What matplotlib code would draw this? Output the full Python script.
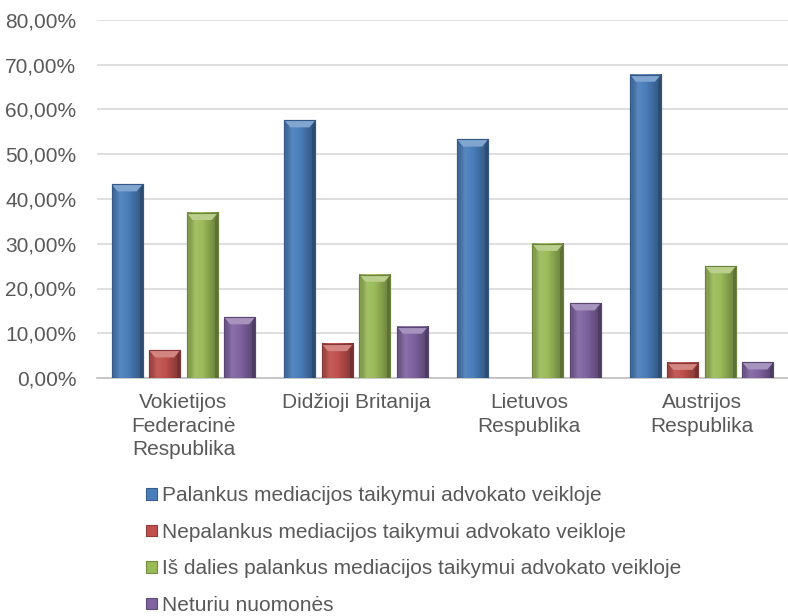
import numpy as np
import matplotlib
matplotlib.use("Agg")
import matplotlib.pyplot as plt
from matplotlib.colors import LinearSegmentedColormap, to_rgb
from matplotlib.patches import Polygon

plt.rcParams["font.family"] = ["Liberation Sans", "DejaVu Sans"]

categories = ["Vokietijos\nFederacinė\nRespublika", "Didžioji Britanija",
              "Lietuvos\nRespublika", "Austrijos\nRespublika"]
series_names = [
    "Palankus mediacijos taikymui advokato veikloje",
    "Nepalankus mediacijos taikymui advokato veikloje",
    "Iš dalies palankus mediacijos taikymui advokato veikloje",
    "Neturiu nuomonės",
]
palankus = [43.3, 57.6, 53.3, 67.8]
nepalankus = [6.2, 7.6, 0.0, 3.4]
is_dalies = [36.9, 23.1, 30.0, 25.0]
neturiu = [13.6, 11.5, 16.7, 3.5]
series_values = [palankus, nepalankus, is_dalies, neturiu]

colors = ["#4a7ebb", "#c0504d", "#9bbb59", "#8064a2"]
TEXT = "#595959"


def shade(c, f):
    r = np.array(to_rgb(c))
    if f < 1:
        return tuple(r * f)
    return tuple(r + (1 - r) * (f - 1))


fig = plt.figure(figsize=(7.88, 6.16), dpi=100)
ax = fig.add_axes([97 / 788, 1 - 378 / 616, 1 - 97 / 788, (378 - 20) / 616])

x = np.arange(len(categories))
step = 0.217
width = 0.18
bevel_h = 1.6
bevel_w = 0.035

handles = []
for i, (vals, col) in enumerate(zip(series_values, colors)):
    pos = x + (i - 1.5) * step
    bars = ax.bar(pos, vals, width=width, color=col, edgecolor=shade(col, 0.75),
                  linewidth=0.8, zorder=3, label=series_names[i])
    handles.append(bars)
    cmap = LinearSegmentedColormap.from_list(
        "g", [shade(col, 0.72), shade(col, 1.08), shade(col, 1.0), shade(col, 0.82), shade(col, 0.65)])
    grad = np.linspace(0, 1, 64).reshape(1, -1)
    for b in bars:
        h = b.get_height()
        if h <= 0:
            continue
        x0 = b.get_x()
        x1 = x0 + b.get_width()
        ax.imshow(grad, cmap=cmap, extent=(x0, x1, 0, h), aspect="auto",
                  zorder=3.5, interpolation="bicubic")
        bh = min(bevel_h, h)
        top = Polygon([(x0, h), (x1, h), (x1 - bevel_w, h - bh), (x0 + bevel_w, h - bh)],
                      closed=True, facecolor=shade(col, 1.3), edgecolor="none", zorder=4)
        ax.add_patch(top)
        ax.add_patch(Polygon([(x0, h), (x0, 0), (x0 + bevel_w * 0.5, 0), (x0 + bevel_w * 0.5, h - bh)],
                             closed=True, facecolor=shade(col, 0.85), edgecolor="none", zorder=4))
        ax.add_patch(Polygon([(x1, h), (x1, 0), (x1 - bevel_w * 0.5, 0), (x1 - bevel_w * 0.5, h - bh)],
                             closed=True, facecolor=shade(col, 0.6), edgecolor="none", zorder=4))
        ax.add_patch(plt.Rectangle((x0, 0), x1 - x0, h, fill=False,
                                   edgecolor=shade(col, 0.7), linewidth=0.8, zorder=4.5))

ax.set_xlim(-0.5, len(categories) - 0.5)
ax.set_ylim(0, 80)
ax.set_yticks(np.arange(0, 81, 10))
ax.set_yticklabels([f"{v:.2f}".replace(".", ",") + "%" for v in np.arange(0, 81, 10)])
ax.set_xticks(x)
ax.set_xticklabels(categories, linespacing=1.3)
ax.tick_params(axis="both", length=0, labelsize=15, colors=TEXT)
ax.tick_params(axis="y", pad=15)
ax.tick_params(axis="x", pad=11)
ax.grid(axis="y", color="#d9d9d9", linewidth=1.2, zorder=0)
ax.set_axisbelow(True)
for s in ["top", "right", "left"]:
    ax.spines[s].set_visible(False)
ax.spines["bottom"].set_color("#bfbfbf")
ax.spines["bottom"].set_linewidth(1.2)

fig.legend(handles=handles, labels=series_names, loc="upper left",
           bbox_to_anchor=(138 / 788, 1 - 478 / 616), frameon=False,
           fontsize=15, labelcolor=TEXT, handlelength=0.5, handleheight=0.5,
           handletextpad=0.25, labelspacing=0.84, borderaxespad=0)

fig.savefig("out.png", dpi=100, facecolor="white")
